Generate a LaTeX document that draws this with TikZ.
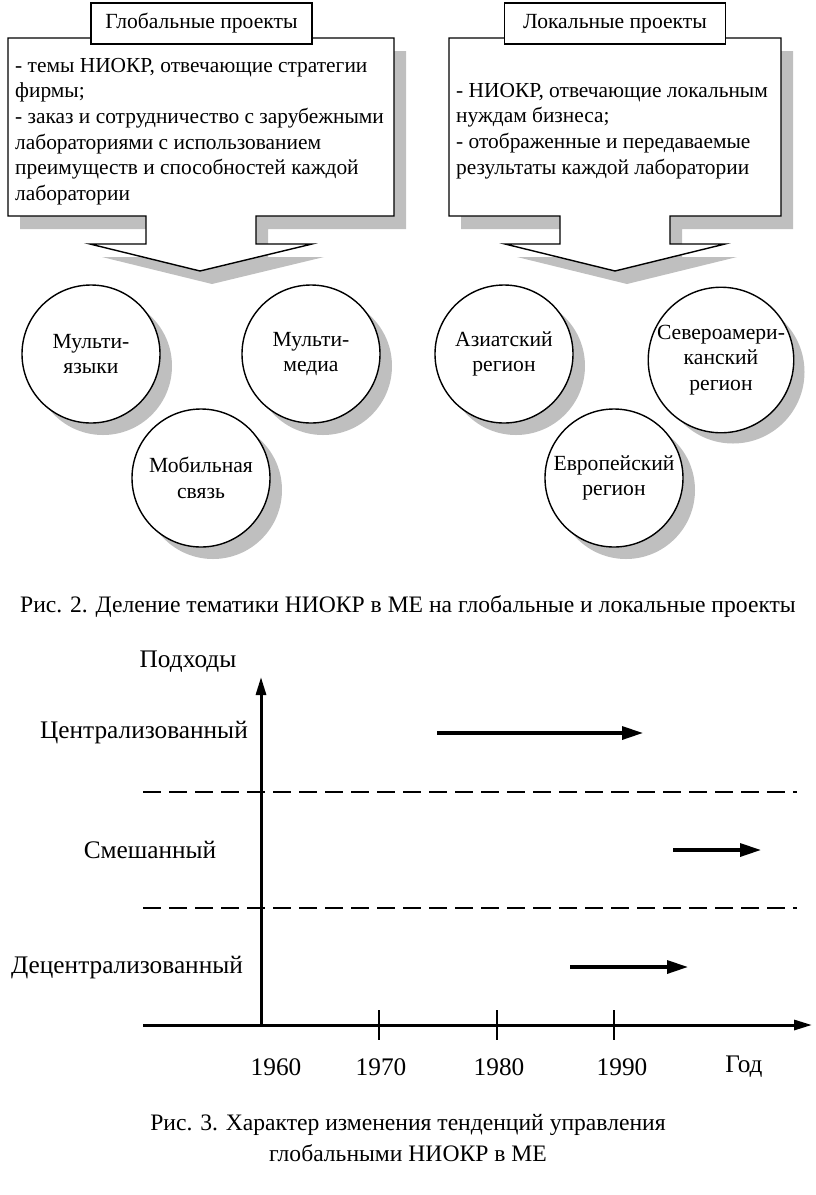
\documentclass[tikz,border=0pt]{standalone}
\usepackage{fontspec}
\setmainfont{Liberation Serif}
\usetikzlibrary{arrows.meta}
\tikzset{
    shadowfill/.style={fill=black!25, draw=none},
    callout/.style={draw, fill=white, line width=1.4pt, line join=miter},
    titlebox/.style={draw, fill=white, line width=1.4pt, minimum width=221pt, minimum height=41pt, inner sep=0pt, font=\fontsize{21.6}{26}\selectfont},
    bodytext/.style={anchor=north west, align=left, inner sep=0pt, font=\fontsize{21.4}{25.6}\selectfont},
    bubble/.style={circle, draw, fill=white, line width=1.4pt, minimum size=138pt, inner sep=0pt, align=center, font=\fontsize{21.6}{25.5}\selectfont},
    bubbleshadow/.style={circle, shadowfill, minimum size=138pt, inner sep=0pt},
    chartlabel/.style={inner sep=0pt, font=\fontsize{25.3}{28}\selectfont},
    captiontext/.style={inner sep=0pt, font=\fontsize{23.6}{28}\selectfont},
    axisline/.style={line width=3pt, -{Triangle[length=18pt, width=10pt]}},
    trend/.style={line width=3.3pt, -{Triangle[length=21pt, width=13pt]}},
    divider/.style={line width=2pt, dash pattern=on 18pt off 8pt},
    yeartick/.style={line width=1.5pt},
}
\begin{document}
\begin{tikzpicture}[x=1pt, y=-1pt]
            \useasboundingbox (0,0) rectangle (816,1195);
            \fill [shadowfill, shift={(12,13)}] (8,38) -- (394,38) -- (394,216) -- (256,216) -- (256,244) -- (312,244) -- (200,271) -- (90,244) -- (146,244) -- (146,216) -- (8,216) -- cycle;
            \draw [callout] (8,38) -- (394,38) -- (394,216) -- (256,216) -- (256,244) -- (312,244) -- (200,271) -- (90,244) -- (146,244) -- (146,216) -- (8,216) -- cycle;
            \fill [shadowfill, shift={(12,13)}] (449,38) -- (781,38) -- (781,216) -- (670,216) -- (670,244) -- (725,244) -- (615,271) -- (505,244) -- (560,244) -- (560,216) -- (449,216) -- cycle;
            \draw [callout] (449,38) -- (781,38) -- (781,216) -- (670,216) -- (670,244) -- (725,244) -- (615,271) -- (505,244) -- (560,244) -- (560,216) -- (449,216) -- cycle;
            \node [titlebox] (globaltitle) at (201.5,23.5) {Глобальные проекты};
            \node [titlebox] (localtitle) at (615,23.5) {Локальные проекты};
            \node [bodytext] (globaltext) at (15,58) {- темы НИОКР, отвечающие стратегии\\фирмы;\\- заказ и сотрудничество с зарубежными\\лабораториями с использованием\\преимуществ и способностей каждой\\лаборатории};
            \node [bodytext] (localtext) at (456,83) {- НИОКР, отвечающие локальным\\нуждам бизнеса;\\- отображенные и передаваемые\\результаты каждой лаборатории};
            \node [bubbleshadow] at (103,366) {};
            \node [bubble] (multilang) at (91,354) {Мульти-\\языки};
            \node [bubbleshadow] at (323,366) {};
            \node [bubble] (multimedia) at (311,354) {Мульти-\\медиа};
            \node [bubbleshadow] at (213,490) {};
            \node [bubble] (mobile) at (201,478) {Мобильная\\связь};
            \node [bubbleshadow] at (516,366) {};
            \node [bubble] (asia) at (504,354) {Азиатский\\регион};
            \node [bubbleshadow, minimum size=143pt] at (733,372) {};
            \node [bubble, minimum size=143pt] (namerica) at (721,360) {Североамери-\\канский\\регион};
            \node [bubbleshadow] at (626,490) {};
            \node [bubble] (europe) at (614,478) {Европейский\\регион};
            \node [captiontext] (caption2) at (408,607) {Рис. 2. Деление тематики НИОКР в МЕ на глобальные и локальные проекты};
            \coordinate (origin) at (261,1025);
            \coordinate (ytop) at (261,677);
            \coordinate (xleft) at (143,1025);
            \coordinate (xright) at (812,1025);
            \draw [divider] (143,792) -- (797,792);
            \draw [divider] (143,908) -- (797,908);
            \draw [axisline] (origin) -- (ytop);
            \draw [axisline] (xleft) -- (xright);
            \draw [yeartick] (379,1010) -- (379,1040);
            \draw [yeartick] (497,1010) -- (497,1040);
            \draw [yeartick] (614,1010) -- (614,1040);
            \node [chartlabel] (approaches) at (188,662) {Подходы};
            \node [chartlabel, anchor=east] (central) at (248,733) {Централизованный};
            \node [chartlabel] (mixed) at (150,850) {Смешанный};
            \node [chartlabel] (decentral) at (127,968) {Децентрализованный};
            \coordinate (centralfrom) at (437,733);
            \coordinate (centralto) at (643,733);
            \coordinate (mixedfrom) at (673,850);
            \coordinate (mixedto) at (761,850);
            \coordinate (decentralfrom) at (570,967);
            \coordinate (decentralto) at (688,967);
            \draw [trend] (centralfrom) -- (centralto);
            \draw [trend] (mixedfrom) -- (mixedto);
            \draw [trend] (decentralfrom) -- (decentralto);
            \node [chartlabel] (y1960) at (276,1067) {1960};
            \node [chartlabel] (y1970) at (381,1067) {1970};
            \node [chartlabel] (y1980) at (499,1067) {1980};
            \node [chartlabel] (y1990) at (622,1067) {1990};
            \node [chartlabel] (year) at (744,1067) {Год};
            \node [captiontext] (caption3a) at (408,1125) {Рис. 3. Характер изменения тенденций управления};
            \node [captiontext] (caption3b) at (408,1153) {глобальными НИОКР в МЕ};
\end{tikzpicture}
\end{document}
